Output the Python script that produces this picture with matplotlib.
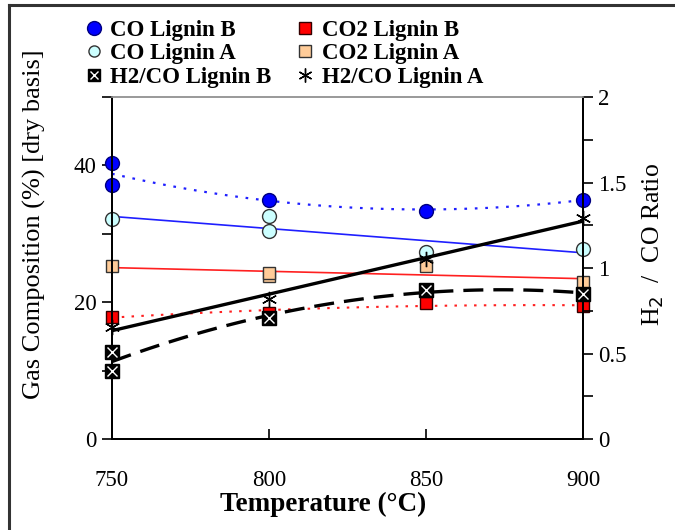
import numpy as np
import matplotlib
matplotlib.use("Agg")
import matplotlib.pyplot as plt
from matplotlib.lines import Line2D
from matplotlib.legend_handler import HandlerTuple

plt.rcParams['font.family'] = ['Liberation Serif', 'DejaVu Serif']

# CO / CO2 gas composition (%), left axis
co_b_t = [750, 750, 800, 850, 900]
co_b = [40.3, 37.2, 35.0, 33.4, 35.0]
co_a_t = [750, 800, 800, 850, 900]
co_a = [32.1, 32.6, 30.4, 27.4, 27.8]
co2_b_t = [750, 800, 850, 900]
co2_b = [17.9, 18.4, 19.9, 19.4]
co2_a_t = [750, 800, 800, 850, 900]
co2_a = [25.3, 23.8, 24.2, 25.3, 22.9]

# H2/CO ratio, right axis
h2co_b_t = [750, 750, 800, 850, 900]
h2co_b = [0.51, 0.40, 0.71, 0.87, 0.85]
h2co_a_t = [750, 800, 850, 900]
h2co_a = [0.655, 0.82, 1.05, 1.29]

x_ticks = [750, 800, 850, 900]


def trend(t, v, order):
    coef = np.polyfit(t, v, order)
    xs = np.linspace(750, 900, 100)
    return xs, np.polyval(coef, xs)


fig = plt.figure(figsize=(6.75, 5.3), dpi=100)
ax = fig.add_axes([112 / 675, 1 - 439 / 530, 471 / 675, 342 / 530])
ax2 = ax.twinx()

# trend lines
xs, ys = trend(co_b_t, co_b, 2)
ax.plot(xs, ys, color='#1f1fff', lw=1.6, ls=(0, (1.2, 3.5)), zorder=2)
xs, ys = trend(co_a_t, co_a, 1)
ax.plot(xs, ys, color='#1f1fff', lw=1.2, zorder=2)
xs, ys = trend(co2_b_t, co2_b, 2)
ax.plot(xs, ys, color='#ff2020', lw=1.5, ls=(0, (1.2, 3.5)), zorder=2)
xs, ys = trend(co2_a_t, co2_a, 1)
ax.plot(xs, ys, color='#ff2020', lw=1.2, zorder=2)
xs, ys = trend(h2co_b_t, h2co_b, 2)
ax2.plot(xs, ys, color='black', lw=2.4, ls=(0, (6, 3)), zorder=2)
xs, ys = trend(h2co_a_t, h2co_a, 1)
ax2.plot(xs, ys, color='black', lw=2.4, zorder=2)

# markers
mk = dict(ls='none', clip_on=False)
ax.plot(co_b_t, co_b, 'o', ms=10, mfc='#0000ff', mec='#000080', mew=1, zorder=5, **mk)
ax.plot(co_a_t, co_a, 'o', ms=10, mfc='#ccffff', mec='#333333', mew=1, zorder=5, **mk)
ax.plot(co2_a_t, co2_a, 's', ms=9, mfc='#ffcc99', mec='#333333', mew=1, zorder=5, **mk)
ax.plot(co2_b_t, co2_b, 's', ms=9, mfc='#ff0000', mec='#330000', mew=1, zorder=5, **mk)
ax2.plot(h2co_b_t, h2co_b, 's', ms=10, mfc='black', mec='black', zorder=5, **mk)
ax2.plot(h2co_b_t, h2co_b, 'x', ms=7, mec='white', mew=1, zorder=6, **mk)
ax2.plot(h2co_a_t, h2co_a, marker=(6, 2, 0), ms=11, mec='black', mew=1, zorder=6, **mk)

# axes
ax.set_xlim(750, 900)
ax.set_ylim(0, 50)
ax2.set_ylim(0, 2)
ax.set_xticks(x_ticks)
ax.set_yticks([0, 20, 40])
ax.set_yticks([10, 30, 50], minor=True)
ax2.set_yticks([0, 0.5, 1, 1.5, 2])
ax2.set_yticklabels(['0', '0.5', '1', '1.5', '2'])
ax2.set_yticks([0.25, 0.75, 1.25, 1.75], minor=True)

ax.tick_params(axis='x', direction='in', length=7, width=1.2, pad=22, labelsize=16.5)
ax.tick_params(axis='y', which='major', direction='out', length=7, width=1.2, labelsize=16.5, pad=4)
ax.tick_params(axis='y', which='minor', direction='out', length=7, width=1.2)
ax2.tick_params(axis='y', which='major', direction='out', length=7, width=1.2, labelsize=16.5, pad=4)
ax2.tick_params(axis='y', which='minor', direction='out', length=7, width=1.2)

for a in (ax, ax2):
    for side in ('left', 'right', 'bottom'):
        a.spines[side].set_linewidth(1.4)
    a.spines['top'].set_color('#999999')
    a.spines['top'].set_linewidth(1.2)

ax.set_xlabel('Temperature (°C)', fontsize=19.5, fontweight='bold')
ax.xaxis.set_label_coords((323 - 112) / 471, -(492 - 439) / 342)
ax.set_ylabel('Gas Composition (%) [dry basis]', fontsize=19)
ax.yaxis.set_label_coords(-(112 - 46) / 471, (439 - 224) / 342)
ax2.set_ylabel('H$_2$  /  CO Ratio', fontsize=18.5)
ax2.yaxis.set_label_coords((641 - 112) / 471, (439 - 245) / 342)

# legend
h_cob = Line2D([], [], marker='o', ms=10, mfc='#0000ff', mec='#000080', ls='none')
h_coa = Line2D([], [], marker='o', ms=8, mfc='#ccffff', mec='#333333', ls='none')
h_bx = (Line2D([], [], marker='s', ms=9, mfc='black', mec='black', ls='none'),
        Line2D([], [], marker='x', ms=6, mec='white', mew=1, ls='none'))
h_co2b = Line2D([], [], marker='s', ms=8, mfc='#ff0000', mec='#330000', ls='none')
h_co2a = Line2D([], [], marker='s', ms=8, mfc='#ffcc99', mec='#333333', ls='none')
h_st = Line2D([], [], marker=(6, 2, 0), ms=10, mec='black', ls='none')
handles = [h_cob, h_coa, h_bx, h_co2b, h_co2a, h_st]
labels = ['CO Lignin B', 'CO Lignin A', 'H2/CO Lignin B',
          'CO2 Lignin B', 'CO2 Lignin A', 'H2/CO Lignin A']
fig.legend(handles, labels, ncol=2, loc='upper left', bbox_to_anchor=(64 / 675, 1 + 1 / 530),
           frameon=False, prop={'weight': 'bold', 'size': 16.5}, handlelength=0.8,
           handletextpad=0.3, columnspacing=1.1, labelspacing=0.12,
           handler_map={tuple: HandlerTuple(ndivide=1, pad=0)})

# outer frame (top and left edges)
fig.add_artist(Line2D([9 / 675, 1], [1 - 5 / 530, 1 - 5 / 530], color='#333333', lw=2.2,
                      transform=fig.transFigure))
fig.add_artist(Line2D([9 / 675, 9 / 675], [0, 1 - 5 / 530], color='#333333', lw=2.2,
                      transform=fig.transFigure))

fig.savefig('out.png', dpi=100)
